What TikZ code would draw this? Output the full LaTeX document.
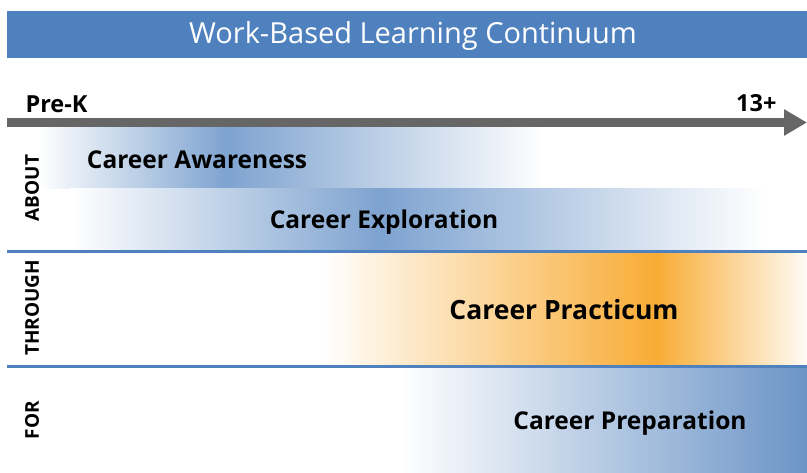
\documentclass[tikz,border=0pt]{standalone}
\usepackage{fontspec}
\setmainfont{Open Sans}
\usetikzlibrary{arrows.meta}
\definecolor{wblblue}{HTML}{5081BF}
\definecolor{bandblue}{HTML}{7EA3D0}
\definecolor{prepblue}{HTML}{6C95C7}
\definecolor{bandorange}{HTML}{F8AC35}
\definecolor{arrowgray}{HTML}{666666}

\begin{document}
\begin{tikzpicture}[x=1pt,y=-1pt,
  band/.style={font=\bfseries\fontsize{24.5}{24.5}\selectfont},
  side/.style={rotate=90,font=\bfseries\fontsize{19}{19}\selectfont},
  rule/.style={wblblue,line width=3pt}]
\useasboundingbox (0,0) rectangle (807,472);

% title bar
\fill[wblblue] (7,11) rectangle (807,58);
\node[white,font=\fontsize{29}{29}\selectfont] (title) at (413,36) {Work-Based Learning Continuum};

% gradient bands
\shade[left color=white,right color=bandblue] (38,127) rectangle (226,188);
\shade[left color=bandblue,right color=white] (226,127) rectangle (545,188);
\shade[left color=white,right color=bandblue] (70,188) rectangle (380,250);
\shade[left color=bandblue,right color=white] (380,188) rectangle (765,250);
\shade[left color=white,right color=bandorange] (322,252) rectangle (657,365);
\shade[left color=bandorange,right color=white!95!bandorange] (657,252) rectangle (807,365);
\shade[left color=white,right color=prepblue] (400,368) rectangle (807,472);

% separators
\draw[rule] (7,251) -- (807,251);
\draw[rule] (7,366) -- (807,366);

% timeline
\coordinate (tstart) at (7,122.5);
\coordinate (tend) at (807,122.5);
\draw[arrowgray,line width=9pt,-{Triangle[length=23pt,width=25pt]}] (tstart) -- (tend);
\node[font=\bfseries\fontsize{23.5}{23.5}\selectfont,anchor=base west] (prek) at (22,112) {Pre-K};
\node[font=\bfseries\fontsize{23.5}{23.5}\selectfont,anchor=base east] (thirteen) at (780,111) {13+};

% stages
\node[band] (awareness) at (197,160) {Career Awareness};
\node[band] (exploration) at (384,222) {Career Exploration};
\node[band,font=\bfseries\fontsize{26.5}{26.5}\selectfont] (practicum) at (564,310) {Career Practicum};
\node[band] (preparation) at (630,423) {Career Preparation};

% side labels
\node[side] (about) at (32,188) {ABOUT};
\node[side] (through) at (32,308) {THROUGH};
\node[side] (for) at (32,420) {FOR};
\end{tikzpicture}
\end{document}
